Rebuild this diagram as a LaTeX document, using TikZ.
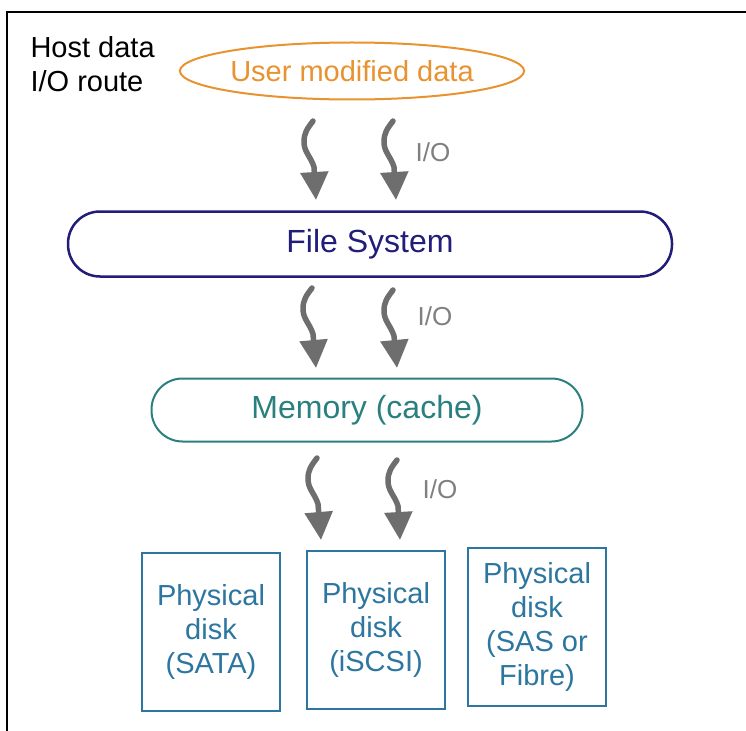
\documentclass[tikz,border=0pt]{standalone}
\usepackage{fontspec}
\setmainfont{Liberation Sans}
\usetikzlibrary{arrows.meta,shapes.geometric}
\definecolor{dataorange}{RGB}{232,146,48}
\definecolor{fsnavy}{RGB}{32,30,120}
\definecolor{memteal}{RGB}{42,128,126}
\definecolor{diskblue}{RGB}{44,118,160}
\definecolor{iogray}{RGB}{110,110,110}
\newcommand{\bigtext}{\fontsize{29}{34}\selectfont}
\newcommand{\iopath}[2]{\draw[io] (#1) .. controls +(-6,8) and +(0,-9) .. ++(-9,21) .. controls +(0,10) and +(-3,-10) .. ++(10,25) -- (#2);}

\begin{document}
\begin{tikzpicture}[x=1pt,y=-1pt,
	io/.style={line width=5.5pt,color=iogray,line cap=round,line join=round,-{Triangle[length=28pt,width=27pt]}},
	iolabel/.style={text=gray,font=\fontsize{26}{30}\selectfont},
	disk/.style={draw=diskblue,line width=2pt,text=diskblue,minimum width=138pt,minimum height=158pt,align=center,font=\bigtext}]
	\useasboundingbox (0,0) rectangle (746,730);
	\fill[white] (0,0) rectangle (746,730);
	\draw[line width=2pt] (7,760) -- (7,12) -- (780,12);
	% layers
	\node[anchor=west,align=left,font=\bigtext] (route) at (27,64) {Host data\\I/O route};
	\node[draw=dataorange,line width=2pt,ellipse,minimum width=344pt,minimum height=57pt,inner sep=0pt,text=dataorange,font=\bigtext] (user) at (352,71) {User modified data};
	\node[draw=fsnavy,line width=2.5pt,rounded corners=32pt,minimum width=604pt,minimum height=65pt,text=fsnavy,font=\fontsize{32}{36}\selectfont] (fs) at (370,244) {File System};
	\node[draw=memteal,line width=2pt,rounded corners=31pt,minimum width=431pt,minimum height=63pt,text=memteal,font=\fontsize{32}{36}\selectfont] (mem) at (367,410) {Memory (cache)};
	\node[disk] (sata) at (211,632) {Physical\\disk\\(SATA)};
	\node[disk] (iscsi) at (376,630) {Physical\\disk\\(iSCSI)};
	\node[disk] (sas) at (537,627) {Physical\\disk\\(SAS or\\Fibre)};
	% I/O arrows
	\coordinate (ua) at (313,121); \coordinate (ub) at (393,121);
	\coordinate (fa) at (316,200); \coordinate (fb) at (396,200);
	\coordinate (fa') at (312,288); \coordinate (fb') at (393,290);
	\coordinate (ma) at (316,368); \coordinate (mb) at (397,368);
	\coordinate (ma') at (317,458); \coordinate (mb') at (397,460);
	\coordinate (da) at (321,540); \coordinate (db) at (400,540);
	\iopath{ua}{fa} \iopath{ub}{fb}
	\iopath{fa'}{ma} \iopath{fb'}{mb}
	\iopath{ma'}{da} \iopath{mb'}{db}
	\node[iolabel] (io1) at (433,152) {I/O};
	\node[iolabel] (io2) at (435,316) {I/O};
	\node[iolabel] (io3) at (440,489) {I/O};
\end{tikzpicture}
\end{document}
